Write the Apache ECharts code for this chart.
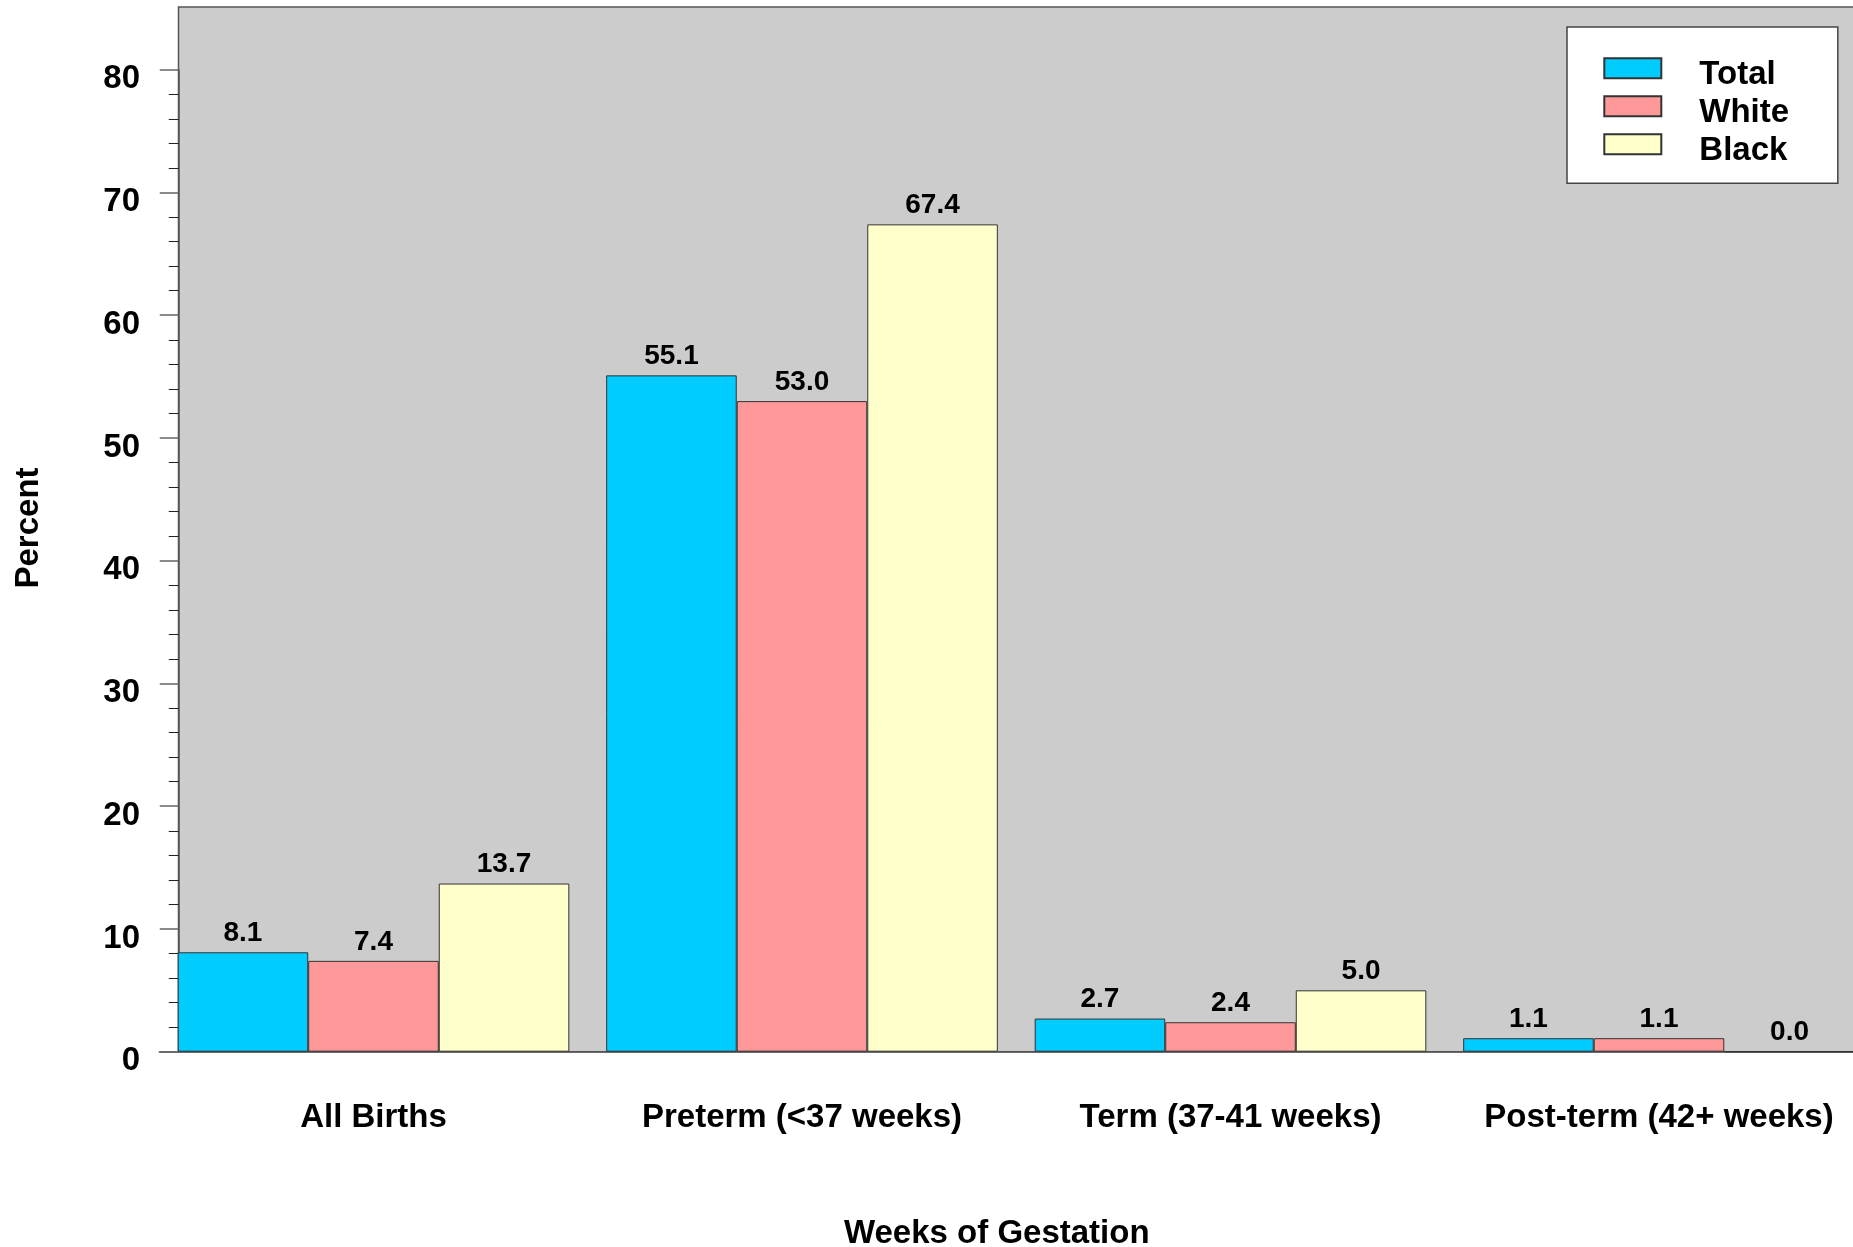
<!DOCTYPE html>
<html>
<head>
<meta charset="utf-8">
<script src="https://cdn.jsdelivr.net/npm/echarts@6/dist/echarts.min.js"></script>
<style>
html,body{margin:0;padding:0;background:#fff;}
#chart{width:1853px;height:1247px;}
</style>
</head>
<body>
<div id="chart"></div>
<script>
const categories = ['All Births', 'Preterm (<37 weeks)', 'Term (37-41 weeks)', 'Post-term (42+ weeks)'];
const totalValues = [8.1, 55.1, 2.7, 1.1];
const whiteValues = [7.4, 53.0, 2.4, 1.1];
const blackValues = [13.7, 67.4, 5.0, 0.0];
const seriesNames = ['Total', 'White', 'Black'];
const yTicks = [0, 10, 20, 30, 40, 50, 60, 70, 80];

const FONT = '"Liberation Sans", Arial, sans-serif';
const colors = ['#00CCFF', '#FF9999', '#FFFFCC'];

const chart = echarts.init(document.getElementById('chart'), null, {renderer: 'canvas'});

function barSeries(name, data, color) {
  return {
    name: name,
    type: 'bar',
    data: data,
    barGap: 0,
    barCategoryGap: '8.6%',
    itemStyle: {color: color, borderColor: '#333', borderWidth: 1},
    label: {
      show: true,
      position: 'top',
      distance: 5,
      fontFamily: FONT,
      fontSize: 28,
      fontWeight: 'bold',
      color: '#000',
      formatter: p => Number(p.value).toFixed(1)
    }
  };
}

chart.setOption({
  backgroundColor: '#fff',
  animation: false,
  graphic: [
    {
      type: 'rect',
      z: -10,
      shape: {x: 178.5, y: 7, width: 1700, height: 1044.7},
      style: {fill: '#CCCCCC', stroke: '#555', lineWidth: 1.5}
    },
    {
      type: 'text',
      x: 28.5,
      y: 528,
      rotation: Math.PI / 2,
      style: {
        text: 'Percent',
        fontFamily: FONT,
        fontSize: 33,
        fontWeight: 'bold',
        fill: '#000',
        textAlign: 'center',
        textVerticalAlign: 'middle'
      }
    }
  ],
  legend: {
    data: seriesNames,
    orient: 'vertical',
    left: 1567,
    top: 27,
    itemWidth: 57,
    itemHeight: 34,
    itemGap: 2,
    icon: 'path://M0 0H57V20H0Z M0 34L0 34',
    padding: [30.3, 48.7, 14, 36.3],
    backgroundColor: '#fff',
    borderColor: '#444',
    borderWidth: 1.5,
    textStyle: {
      fontFamily: FONT,
      fontSize: 33,
      fontWeight: 'bold',
      color: '#000',
      lineHeight: 20,
      padding: [0, 0, 0, 33]
    }
  },
  grid: {left: 159.25, top: 69.7, width: 1714, height: 982, containLabel: false, outerBoundsMode: 'none'},
  xAxis: {
    type: 'category',
    data: categories,
    axisLine: {show: true, lineStyle: {color: '#555', width: 1.5}},
    axisTick: {show: false},
    axisLabel: {
      interval: 0,
      margin: 50,
      fontFamily: FONT,
      fontSize: 33,
      fontWeight: 'bold',
      color: '#000'
    },
    name: 'Weeks of Gestation',
    nameLocation: 'middle',
    nameGap: 166,
    nameTextStyle: {
      fontFamily: FONT,
      fontSize: 33,
      fontWeight: 'bold',
      color: '#000',
      padding: [0, 39, 0, 0]
    }
  },
  yAxis: {
    type: 'value',
    min: yTicks[0],
    max: yTicks[yTicks.length - 1],
    interval: 10,
    offset: -19.5,
    axisLine: {show: true, lineStyle: {color: '#555', width: 1.5}},
    axisTick: {show: true, length: 19, lineStyle: {color: '#666', width: 1.5}},
    minorTick: {show: true, splitNumber: 5, length: 10, lineStyle: {color: '#222', width: 1}},
    splitLine: {show: false},
    axisLabel: {
      margin: 38.75,
      fontFamily: FONT,
      fontSize: 33,
      fontWeight: 'bold',
      color: '#000',
      verticalAlign: 'top',
      lineHeight: 19
    }
  },
  series: [
    barSeries(seriesNames[0], totalValues, colors[0]),
    barSeries(seriesNames[1], whiteValues, colors[1]),
    barSeries(seriesNames[2], blackValues, colors[2])
  ]
});
</script>
</body>
</html>
